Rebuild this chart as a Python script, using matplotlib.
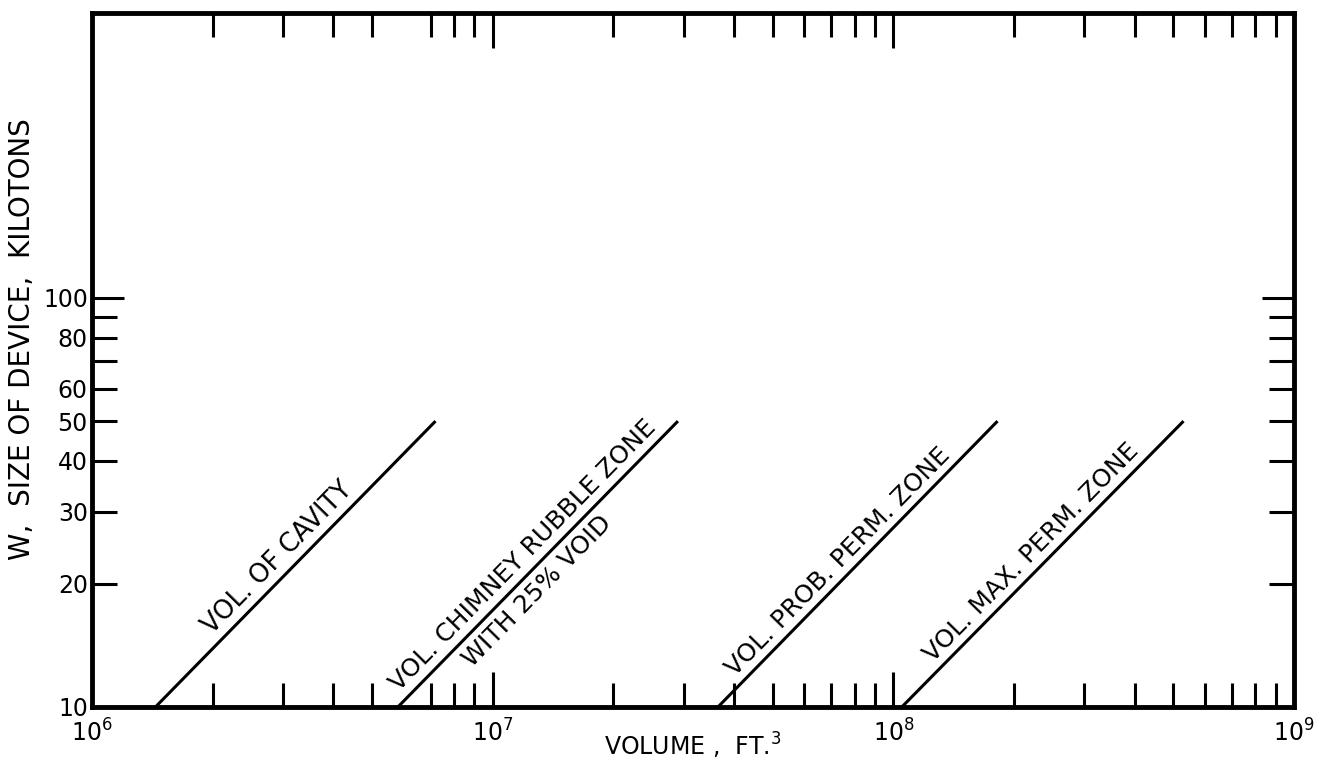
import numpy as np
import matplotlib
matplotlib.use('Agg')
import matplotlib.pyplot as plt
from matplotlib.ticker import FixedLocator, NullFormatter

# W, size of device (kilotons) at the two ends of each line
w_ends = [10, 50]
# volume (ft^3) at W = 10 and W = 50 for each zone
vol_cavity = [1.44e6, 7.2e6]
vol_chimney = [5.8e6, 2.9e7]
vol_prob = [3.65e7, 1.82e8]
vol_max = [1.05e8, 5.3e8]

x_major = [1e6, 1e7, 1e8, 1e9]
x_major_labels = ['10$^6$', '10$^7$', '10$^8$', '10$^9$']
x_minor = [2e6, 3e6, 4e6, 5e6, 7e6, 8e6, 9e6,
           2e7, 3e7, 4e7, 5e7, 6e7, 7e7, 8e7, 9e7,
           2e8, 3e8, 4e8, 5e8, 6e8, 7e8, 8e8, 9e8]
y_major = [10, 20, 30, 40, 50, 60, 80, 100]
y_minor = [70, 90]

plt.rcParams['font.family'] = ['DejaVu Sans']

fig = plt.figure(figsize=(13.35, 7.64), dpi=100)
ax = fig.add_axes([92 / 1335, 1 - 707 / 764, 1202 / 1335, 694 / 764])
ax.set_xscale('log')
ax.set_yscale('log')
ax.set_xlim(1e6, 1e9)
ax.set_ylim(10, 10 ** (1 + 694 / 409))

for v in [vol_cavity, vol_chimney, vol_prob, vol_max]:
    ax.plot(v, w_ends, color='black', lw=2.2, solid_capstyle='butt')

for s in ax.spines.values():
    s.set_linewidth(3.5)

ax.xaxis.set_major_locator(FixedLocator(x_major))
ax.xaxis.set_minor_locator(FixedLocator(x_minor))
ax.set_xticklabels(x_major_labels)
ax.xaxis.set_minor_formatter(NullFormatter())
ax.yaxis.set_major_locator(FixedLocator(y_major))
ax.yaxis.set_minor_locator(FixedLocator(y_minor))
ax.set_yticklabels([str(v) for v in y_major])
ax.yaxis.set_minor_formatter(NullFormatter())

ax.tick_params(axis='x', which='both', direction='in', top=True, bottom=True,
               width=2.2, labelsize=17, pad=9)
ax.tick_params(axis='x', which='major', length=25)
ax.tick_params(axis='x', which='minor', length=17)
ax.tick_params(axis='y', which='both', direction='in', left=True, right=True,
               width=2.2, length=18, labelsize=17, pad=3)
big = ax.yaxis.get_major_ticks()[-1]
big.tick1line.set_markersize(23)
big.tick2line.set_markersize(23)

fig.text(693 / 1335, 3 / 764, 'VOLUME ,  FT.$^3$', fontsize=17,
         ha='center', va='bottom')
fig.text(22 / 1335, 1 - 339 / 764, 'W,  SIZE OF DEVICE,  KILOTONS',
         fontsize=20, rotation=90, ha='center', va='center')

# line labels, rotated along the lines
p1 = ax.transData.transform((vol_cavity[0], w_ends[0]))
p2 = ax.transData.transform((vol_cavity[1], w_ends[1]))
ang = np.degrees(np.arctan2(p2[1] - p1[1], p2[0] - p1[0]))
nx, ny = -np.sin(np.radians(ang)), np.cos(np.radians(ang))


def line_label(v, frac, text, off, va, size=18):
    w = w_ends[0] * (w_ends[1] / w_ends[0]) ** frac
    x = v[0] * (v[1] / v[0]) ** frac
    ax.annotate(text, xy=(x, w), xytext=(nx * off, ny * off),
                textcoords='offset points', rotation=ang,
                rotation_mode='anchor', ha='center', va=va, fontsize=size)


line_label(vol_cavity, 0.48, 'VOL. OF CAVITY', 3, 'bottom', 18.5)
line_label(vol_chimney, 0.49, 'VOL. CHIMNEY RUBBLE ZONE', 3, 'bottom')
line_label(vol_chimney, 0.45, 'WITH 25% VOID', -5, 'top')
line_label(vol_prob, 0.47, 'VOL. PROB. PERM. ZONE', 3, 'bottom')
line_label(vol_max, 0.5, 'VOL. MAX. PERM. ZONE', 3, 'bottom')

fig.savefig('out.png', dpi=100)
